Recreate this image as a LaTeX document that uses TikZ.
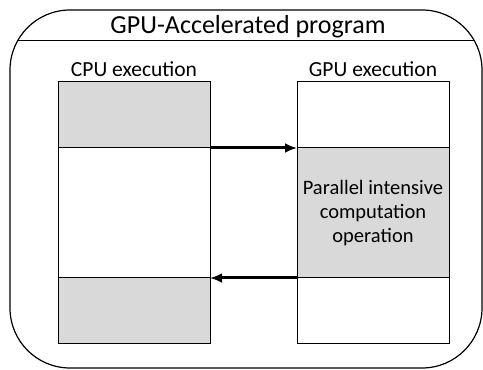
\documentclass[tikz,border=0pt]{standalone}
\usepackage{fontspec}
\setmainfont{Carlito}
\usetikzlibrary{arrows.meta}
\definecolor{blockgray}{RGB}{217,217,217}
\tikzset{
  >={Latex[length=12pt,width=10pt]},
  {frame/.style} ={draw,line width=1.2pt,rounded corners=60pt,
                  minimum width=472pt,minimum height=358pt,inner sep=0},
  {block/.style} ={draw,line width=1pt,fill=#1,minimum width=152pt,
                  inner sep=0,outer sep=0,align=center,
                  font=\fontsize{20.5}{24}\selectfont},
  block/.default = white,
  {short block/.style} ={block=#1,minimum height=66pt},
  short block/.default = white,
  {long block/.style} ={block=#1,minimum height=130pt},
  long block/.default = white,
  {label/.style} ={anchor=base,inner sep=0,font=\fontsize{21.5}{26}\selectfont},
  {call/.style} ={line width=3pt,->},
}

\begin{document}
\begin{tikzpicture}[x=1pt,y=1pt]
\useasboundingbox (0,0) rectangle (483,370);
% outer program frame
\node[frame] (prog) at (246,181) {};
\node[anchor=base,inner sep=0,font=\fontsize{26}{30}\selectfont] (title) at (248,336)
  {GPU-Accelerated program};
\begin{scope}
  \clip[rounded corners=60pt] (10,2) rectangle (482,360);
  \draw[line width=1pt] (prog.west |- 0,329) -- (prog.east |- 0,329);
\end{scope}
% column heads
\node[label] (cpulabel) at (134,293) {CPU execution};
\node[label] (gpulabel) at (373,293) {GPU execution};
% cpu side
\node[short block=blockgray] (cpu1) at (134,255) {};
\node[long block] (cpu2) at (134,157) {};
\node[short block=blockgray] (cpu3) at (134,59) {};
% gpu side
\node[short block] (gpu1) at (373,255) {};
\node[long block=blockgray] (gpu2) at (373,157)
  {Parallel intensive\\computation\\operation};
\node[short block] (gpu3) at (373,59) {};
% transfers
\draw[call] (cpu1.south east) -- (gpu2.north west);
\draw[call] (gpu2.south west) -- (cpu3.north east);
\end{tikzpicture}
\end{document}
